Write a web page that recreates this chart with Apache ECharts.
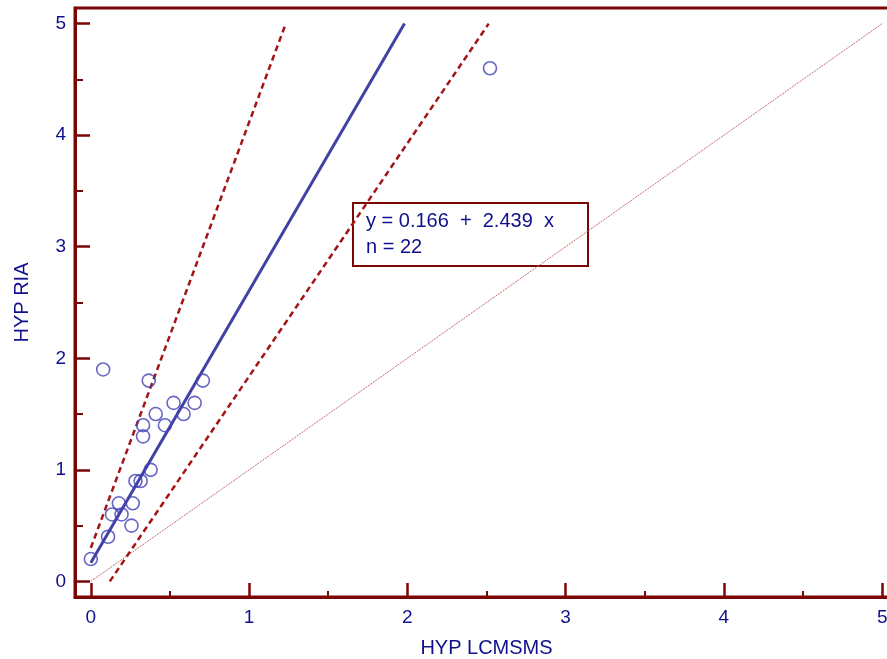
<!DOCTYPE html>
<html>
<head>
<meta charset="utf-8">
<script src="https://cdn.jsdelivr.net/npm/echarts@6/dist/echarts.min.js"></script>
<style>
  html, body { margin: 0; padding: 0; background: #fff; }
  #chart { width: 887px; height: 659px; }
</style>
</head>
<body>
<div id="chart"></div>
<script>
// measured points: [HYP LCMSMS, HYP RIA]
const points = [
  [0.078, 1.9], [0.366, 1.8], [0.708, 1.8], [0.523, 1.6], [0.656, 1.6],
  [0.41, 1.5], [0.586, 1.5], [0.33, 1.4], [0.468, 1.4], [0.33, 1.3],
  [0.378, 1.0], [0.282, 0.9], [0.315, 0.9], [0.177, 0.7], [0.265, 0.7],
  [0.134, 0.6], [0.194, 0.6], [0.257, 0.5], [0.109, 0.4], [0.0, 0.2],
  [2.522, 4.6],
];
const regLine = [[0, 0.166], [1.982, 5]];
const ciUpper = [[0, 0.3], [1.232, 5]];
const ciLower = [[0.12, 0], [2.514, 5]];
const identityLine = [[0, 0], [5, 5]];

const majorTicks = [0, 1, 2, 3, 4, 5];
const minorTicks = [0.5, 1.5, 2.5, 3.5, 4.5];

const axisRed = "#7b0606";
const textBlue = "#10108c";
const font = "Liberation Sans, Arial, sans-serif";

const chart = echarts.init(document.getElementById("chart"));

const majorX = {
  type: "value",
  min: -0.1,
  max: 5.1,
  position: "bottom",
  name: "HYP LCMSMS",
  nameLocation: "middle",
  nameGap: 41,
  nameTextStyle: { color: textBlue, fontSize: 20, fontFamily: font },
  axisLine: { show: true, onZero: false, lineStyle: { color: axisRed, width: 3 } },
  axisTick: { show: true, inside: true, length: 14, customValues: majorTicks, lineStyle: { color: axisRed, width: 2.5 } },
  axisLabel: { customValues: majorTicks, margin: 11, color: textBlue, fontSize: 19, fontFamily: font },
  splitLine: { show: false },
};
const minorX = {
  type: "value",
  min: -0.1,
  max: 5.1,
  position: "bottom",
  axisLine: { show: false, onZero: false },
  axisTick: { show: true, inside: true, length: 6, customValues: minorTicks, lineStyle: { color: axisRed, width: 2 } },
  axisLabel: { show: false },
  splitLine: { show: false },
};
const majorY = {
  type: "value",
  min: -0.14,
  max: 5.14,
  position: "left",
  name: "HYP RIA",
  nameLocation: "middle",
  nameGap: 43,
  nameTextStyle: { color: textBlue, fontSize: 20, fontFamily: font },
  axisLine: { show: true, onZero: false, lineStyle: { color: axisRed, width: 3 } },
  axisTick: { show: true, inside: true, length: 15, customValues: majorTicks, lineStyle: { color: axisRed, width: 2.5 } },
  axisLabel: { customValues: majorTicks, margin: 9, color: textBlue, fontSize: 19, fontFamily: font },
  splitLine: { show: false },
};
const minorY = {
  type: "value",
  min: -0.14,
  max: 5.14,
  position: "left",
  axisLine: { show: false, onZero: false },
  axisTick: { show: true, inside: true, length: 8, customValues: minorTicks, lineStyle: { color: axisRed, width: 2 } },
  axisLabel: { show: false },
  splitLine: { show: false },
};

const lineSeries = (data, color, width, type, z) => ({
  type: "line",
  data: data,
  symbol: "none",
  silent: true,
  z: z,
  lineStyle: { color: color, width: width, type: type },
});

chart.setOption({
  animation: false,
  grid: {
    left: 75,
    top: 8,
    width: 823,
    height: 589,
    outerBoundsMode: "none",
    containLabel: false,
    show: true,
    borderColor: axisRed,
    borderWidth: 3,
    backgroundColor: "#fff",
  },
  xAxis: [majorX, minorX],
  yAxis: [majorY, minorY],
  series: [
    lineSeries(identityLine, "#c86a6a", 1, [2, 1], 1),
    lineSeries(ciUpper, "#a31515", 2.5, [6, 4], 2),
    lineSeries(ciLower, "#a31515", 2.5, [6, 4], 2),
    lineSeries(regLine, "#4242a6", 3, "solid", 3),
    {
      type: "scatter",
      data: points,
      symbol: "circle",
      symbolSize: 13,
      z: 4,
      itemStyle: { color: "rgba(255,255,255,0)", borderColor: "#4141b4", borderWidth: 1.6 },
    },
  ],
  graphic: [
    {
      type: "group",
      z: 100,
      children: [
        {
          type: "rect",
          shape: { x: 353, y: 203, width: 235, height: 63 },
          style: { fill: "#fff", stroke: axisRed, lineWidth: 2 },
        },
        {
          type: "text",
          x: 366,
          y: 221,
          style: { text: "y = 0.166  +  2.439  x", fill: textBlue, fontSize: 20, fontFamily: font, verticalAlign: "middle" },
        },
        {
          type: "text",
          x: 366,
          y: 247,
          style: { text: "n = 22", fill: textBlue, fontSize: 20, fontFamily: font, verticalAlign: "middle" },
        },
      ],
    },
  ],
});
</script>
</body>
</html>
